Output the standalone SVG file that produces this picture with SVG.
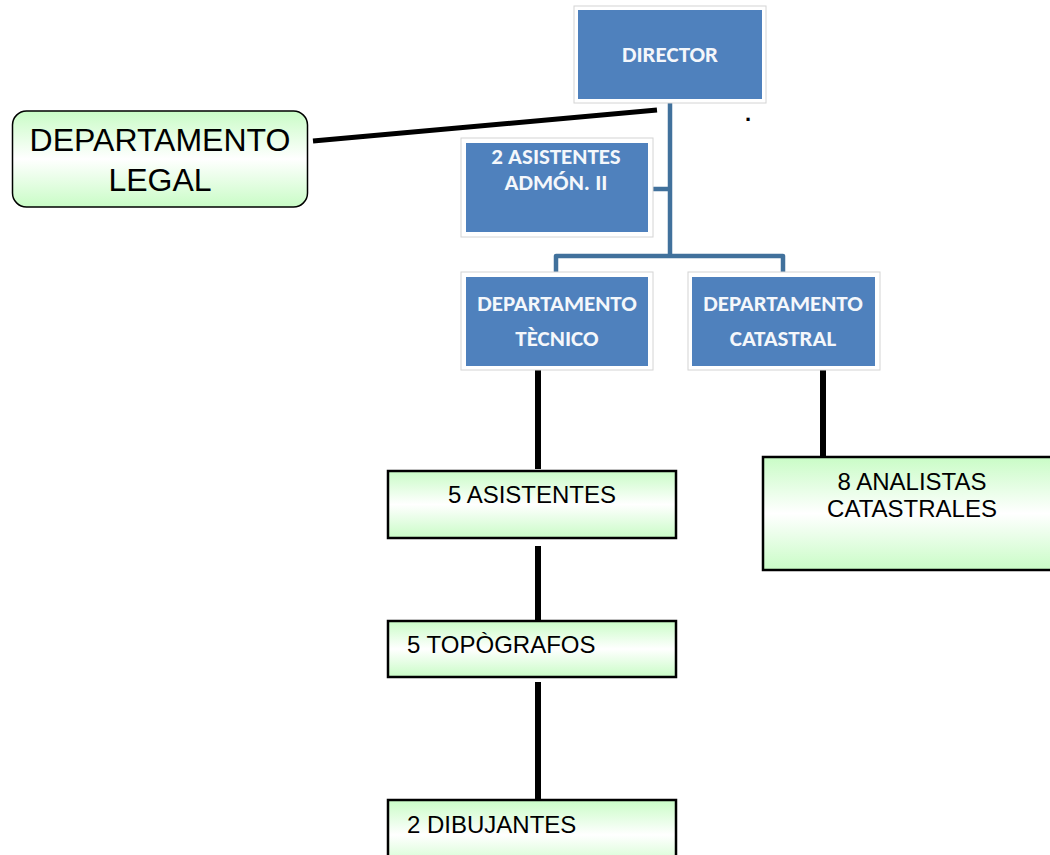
<svg xmlns="http://www.w3.org/2000/svg" width="1050" height="855" viewBox="0 0 1050 855">
<defs>
<linearGradient id="g" x1="0" y1="0" x2="0" y2="1">
<stop offset="0" stop-color="#c9fcc6"/>
<stop offset="0.5" stop-color="#ffffff"/>
<stop offset="1" stop-color="#c9fcc6"/>
</linearGradient>
<style>
.frame{fill:#ffffff;stroke:#d4d4d4;stroke-width:1}
.blue{fill:#4f81bd}
.bt{font-family:Carlito,Lato,"Open Sans",sans-serif;font-weight:bold;font-size:23px;fill:#f4f7fb;text-anchor:middle}
.green{fill:url(#g);stroke:#000;stroke-width:2.5}
.gt{font-family:"Liberation Sans",Arial,sans-serif;font-size:24px;fill:#000}
.bl{fill:none;stroke:#41719c;stroke-width:4.5;stroke-linejoin:round}
.k{fill:none;stroke:#000;stroke-width:6}
</style>
</defs>
<rect width="1050" height="855" fill="#fff"/>
<g id="connectors">
<path class="bl" d="M670 103V256M556 273V256H783V273M653 189H670"/>
<line class="k" x1="313" y1="141" x2="657" y2="110" style="stroke-width:5"/>
<line class="k" x1="538" y1="367" x2="538" y2="469"/>
<line class="k" x1="538" y1="546" x2="538" y2="620"/>
<line class="k" x1="538" y1="682" x2="538" y2="799"/>
<line class="k" x1="823" y1="367" x2="823" y2="456"/>
</g>
<g id="director">
<rect class="frame" x="574" y="6" width="192" height="97"/>
<rect class="blue" x="578" y="10" width="184" height="89"/>
<text class="bt" x="670" y="62">DIRECTOR</text>
</g>
<g id="asistentes-admon">
<rect class="frame" x="461" y="138" width="192" height="99"/>
<rect class="blue" x="466" y="143" width="182" height="89"/>
<text class="bt" x="556" y="164">2 ASISTENTES</text>
<text class="bt" x="556" y="190">ADMÓN. II</text>
</g>
<g id="dep-tecnico">
<rect class="frame" x="461" y="272" width="192" height="98"/>
<rect class="blue" x="466" y="277" width="182" height="89"/>
<text class="bt" x="557" y="311">DEPARTAMENTO</text>
<text class="bt" x="557" y="346">TÈCNICO</text>
</g>
<g id="dep-catastral">
<rect class="frame" x="688" y="272" width="192" height="98"/>
<rect class="blue" x="692" y="277" width="183" height="89"/>
<text class="bt" x="783" y="311">DEPARTAMENTO</text>
<text class="bt" x="783" y="346">CATASTRAL</text>
</g>
<g id="dep-legal">
<rect class="green" x="12.5" y="111" width="295" height="96" rx="14" style="stroke-width:1.5"/>
<text class="gt" x="160" y="151" text-anchor="middle" style="font-size:32px">DEPARTAMENTO</text>
<text class="gt" x="160" y="191" text-anchor="middle" style="font-size:32px">LEGAL</text>
</g>
<g id="asistentes">
<rect class="green" x="388" y="471" width="288" height="67"/>
<text class="gt" x="532" y="503" text-anchor="middle">5 ASISTENTES</text>
</g>
<g id="analistas">
<rect class="green" x="763" y="457" width="300" height="113"/>
<text class="gt" x="912" y="490" text-anchor="middle">8 ANALISTAS</text>
<text class="gt" x="912" y="517" text-anchor="middle">CATASTRALES</text>
</g>
<g id="topografos">
<rect class="green" x="388" y="621" width="288" height="56"/>
<text class="gt" x="407" y="653">5 TOPÒGRAFOS</text>
</g>
<g id="dibujantes">
<rect class="green" x="388" y="800" width="288" height="70"/>
<text class="gt" x="407" y="833">2 DIBUJANTES</text>
</g>
<text x="748" y="121" style="font-family:'Liberation Sans',sans-serif;font-size:22px;font-weight:bold" text-anchor="middle">.</text>
</svg>
